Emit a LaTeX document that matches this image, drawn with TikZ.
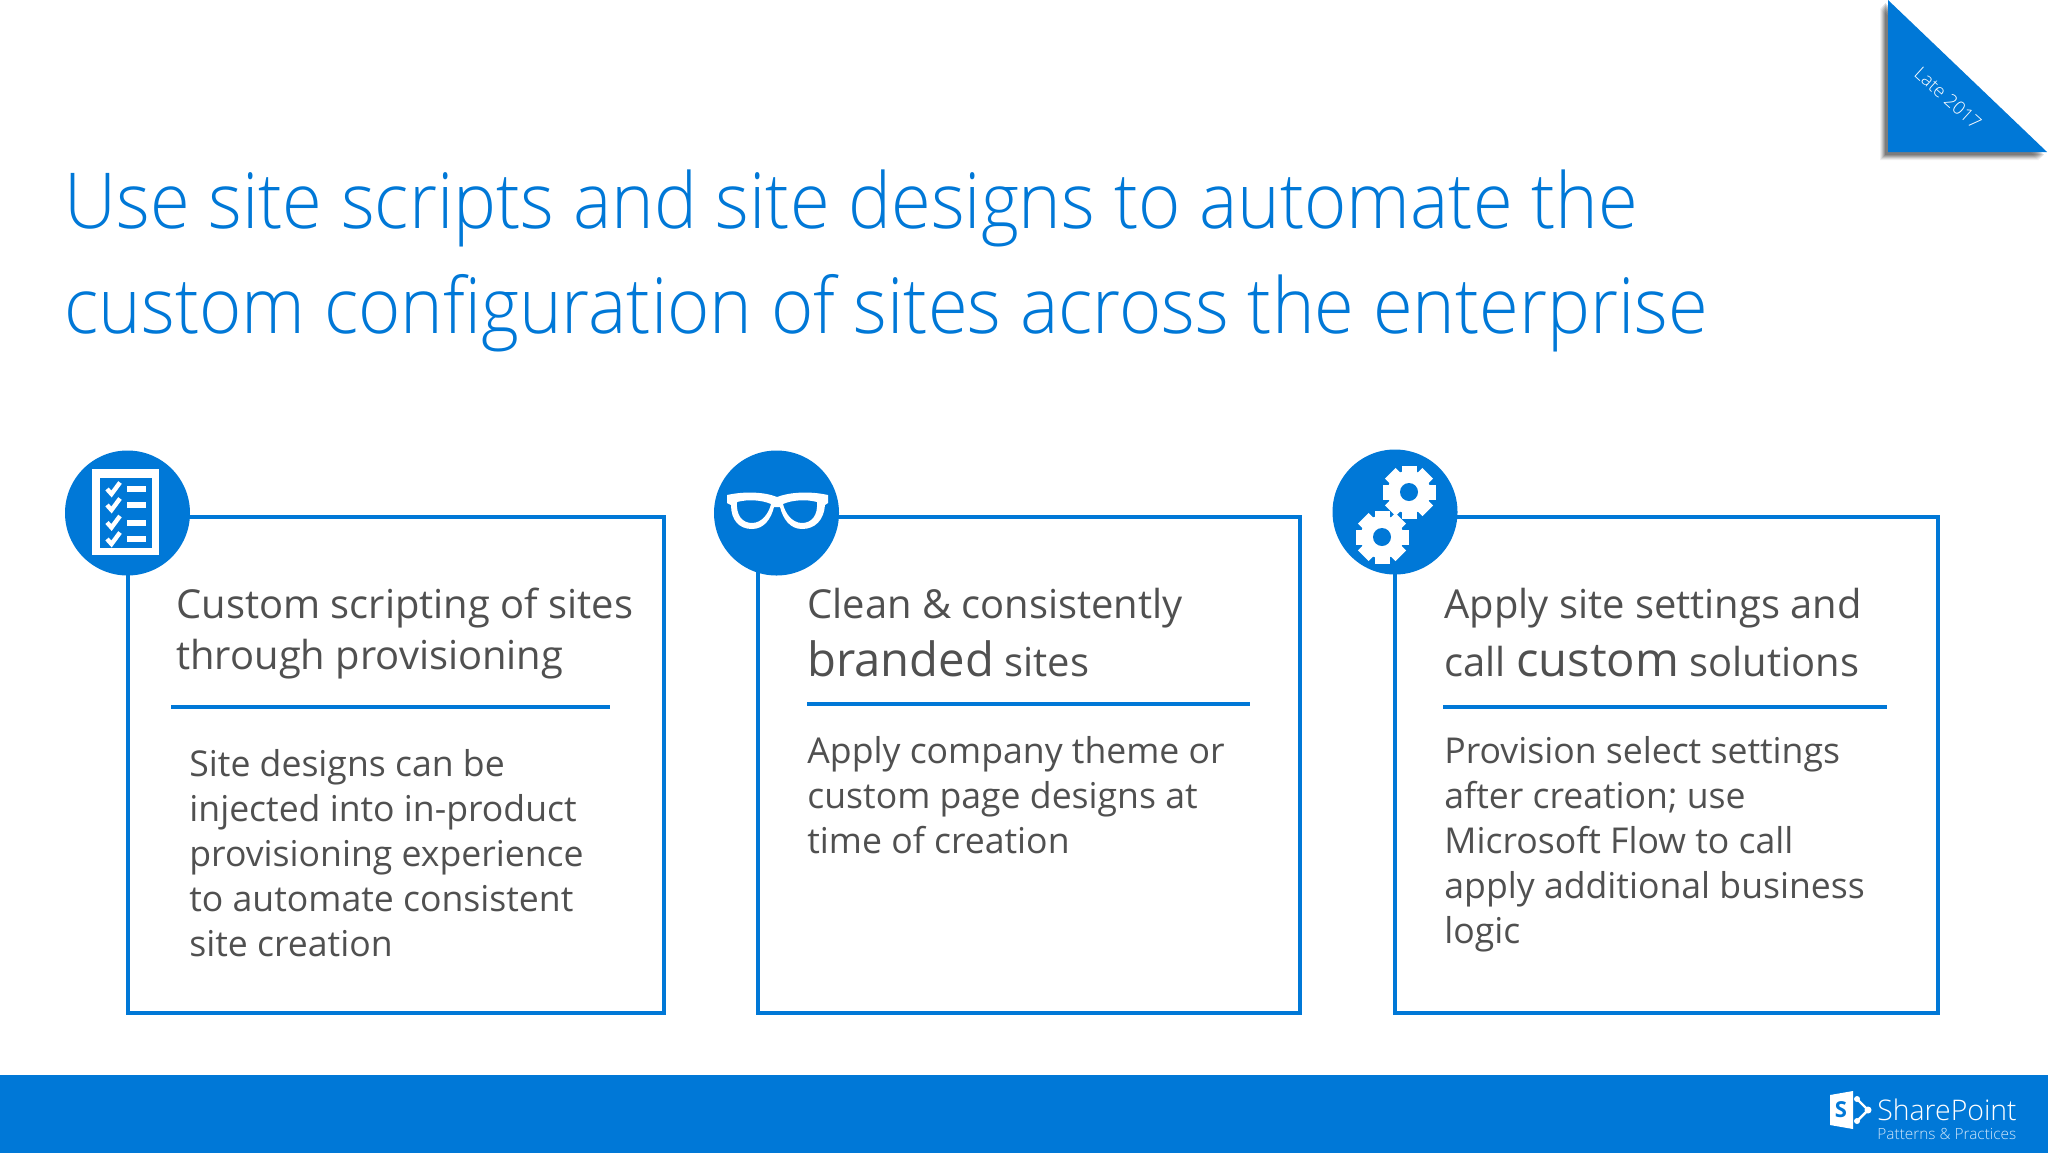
\documentclass[tikz,border=0pt]{standalone}
\usepackage{fontspec}
\setmainfont{Open Sans}
\newfontfamily\lightf{Open Sans Light}
\newfontfamily\titlef[FakeStretch=0.936]{Open Sans Light}
\definecolor{msblue}{HTML}{0078D7}
\definecolor{bodytext}{HTML}{505050}
\definecolor{sublogo}{HTML}{CFE6FA}
\newcommand{\fs}[1]{\fontsize{#1}{#1}\selectfont}
\newcommand{\geargl}[2]{% x, y
  \foreach \a in {0,45,...,315}{\draw[white,line width=7.5] (#1,#2) -- ++(\a:26.5);}
  \fill[white] (#1,#2) circle (21.5);
  \fill[msblue] (#1,#2) circle (9);
}
\tikzset{
  x=0.5pt,y=-0.5pt,
  panel/.style={draw=msblue,line width=2pt,fill=white},
  rulebar/.style={draw=msblue,line width=2.4pt},
  badge/.style={circle,fill=msblue,minimum size=62.5pt,inner sep=0pt},
  headtxt/.style={anchor=base west,inner sep=0pt,text=bodytext,font=\fs{19.95}},
  bodytxt/.style={anchor=base west,inner sep=0pt,text=bodytext,font=\fs{17.8}},
  titletxt/.style={anchor=base west,inner sep=0pt,text=msblue,font=\titlef\fs{38.6}},
}
\begin{document}
\begin{tikzpicture}
\useasboundingbox (0,0) rectangle (2048,1152);
\fill[white] (0,0) rectangle (2048,1152);
% corner triangle
\foreach \d/\o in {8/.06,7/.08,6/.1,5/.12,4/.14,3/.16}{
  \fill[black,opacity=\o] (1888-\d,\d) -- (1888-\d,152+\d) -- (2047-\d,152+\d) -- cycle;}
\fill[msblue] (1888,0) -- (1888,152) -- (2047,152) -- cycle;
\node[rotate=-42,text=white,font=\lightf\fs{9.2},inner sep=0pt] (late) at (1948,98) {Late 2017};
% title
\node[titletxt] (title1) at (64,228) {Use site scripts and site designs to automate the};
\node[titletxt] (title2) at (64,333) {custom configuration of sites across the enterprise};
% panels
\draw[panel] (128,517) rectangle (664,1013);
\draw[panel] (758,517) rectangle (1300,1013);
\draw[panel] (1395,517) rectangle (1938,1013);
% rules
\draw[rulebar] (171,707) -- (610,707);
\draw[rulebar] (807,704) -- (1250,704);
\draw[rulebar] (1443,707) -- (1887,707);
% badges
\node[badge] (b1) at (127.5,513) {};
\node[badge] (b2) at (776.5,513) {};
\node[badge] (b3) at (1395,512) {};
% checklist icon
\fill[white] (92,469) rectangle (159,555);
\fill[msblue] (100,478) rectangle (152,548);
\foreach \y in {489,505,522.5,539}{
  \fill[white] (126.5,\y-3) rectangle (146,\y+3);
  \draw[white,line width=2.2pt] (107,\y) -- (111.5,\y+5) -- (120,\y-6.5);
}
% glasses icon
\fill[white,even odd rule]
  (727,495) .. controls (745,491) and (765,492) .. (777,497)
  .. controls (790,492) and (810,491) .. (828,495) -- (828,503) -- (825,505)
  .. controls (824,520) and (815,529) .. (802,529)
  .. controls (790,529) and (783,519) .. (780,507) -- (774,507)
  .. controls (771,519) and (764,529) .. (752,529)
  .. controls (739,529) and (731,520) .. (731,505) -- (727,503) -- cycle
  (737,502) .. controls (736,515) and (742,523) .. (752,523)
  .. controls (762,523) and (769,513) .. (771,504)
  .. controls (762,500) and (748,499) .. (737,502) -- cycle
  (817,502) .. controls (818,515) and (812,523) .. (802,523)
  .. controls (792,523) and (785,513) .. (783,504)
  .. controls (792,500) and (806,499) .. (817,502) -- cycle;
% gears icon
\geargl{1409}{492}
\geargl{1382}{537}
% headings
\node[headtxt] (h1a) at (176,618) {Custom scripting of sites};
\node[headtxt] (h1b) at (176,669) {through provisioning};
\node[headtxt] (h2a) at (807,618) {Clean \& consistently};
\node[headtxt] (h2b) at (807,676) {{\fs{23.6}branded} sites};
\node[headtxt] (h3a) at (1444,618) {Apply site settings and};
\node[headtxt] (h3b) at (1444,676) {call {\fs{23.6}custom} solutions};
% body
\node[bodytxt] (p1a) at (189,776) {Site designs can be};
\node[bodytxt] (p1b) at (189,821) {injected into in-product};
\node[bodytxt] (p1c) at (189,866) {provisioning experience};
\node[bodytxt] (p1d) at (189,911) {to automate consistent};
\node[bodytxt] (p1e) at (189,956) {site creation};
\node[bodytxt] (p2a) at (807,763) {Apply company theme or};
\node[bodytxt] (p2b) at (807,808) {custom page designs at};
\node[bodytxt] (p2c) at (807,853) {time of creation};
\node[bodytxt] (p3a) at (1444,763) {Provision select settings};
\node[bodytxt] (p3b) at (1444,808) {after creation; use};
\node[bodytxt] (p3c) at (1444,853) {Microsoft Flow to call};
\node[bodytxt] (p3d) at (1444,898) {apply additional business};
\node[bodytxt] (p3e) at (1444,943) {logic};
% footer
\fill[msblue] (0,1075) rectangle (2048,1153);
\fill[white] (1830,1095) -- (1853,1091) -- (1853,1129) -- (1830,1125) -- cycle;
\node[text=msblue,font=\fs{11}\bfseries,inner sep=0pt] (logoS) at (1841,1110) {S};
\draw[white,line width=1.2pt] (1857,1099) -- (1868,1110) -- (1857,1121);
\fill[white] (1857,1099) circle (3) (1868,1110) circle (3.5) (1857,1121) circle (3);
\node[anchor=base west,inner sep=0pt,text=white,font=\lightf\fs{14.2}] (sp) at (1877,1120) {SharePoint};
\node[anchor=base west,inner sep=0pt,text=sublogo,font=\lightf\fs{7.7}] (pp) at (1877,1139) {Patterns \& Practices};
\end{tikzpicture}
\end{document}
